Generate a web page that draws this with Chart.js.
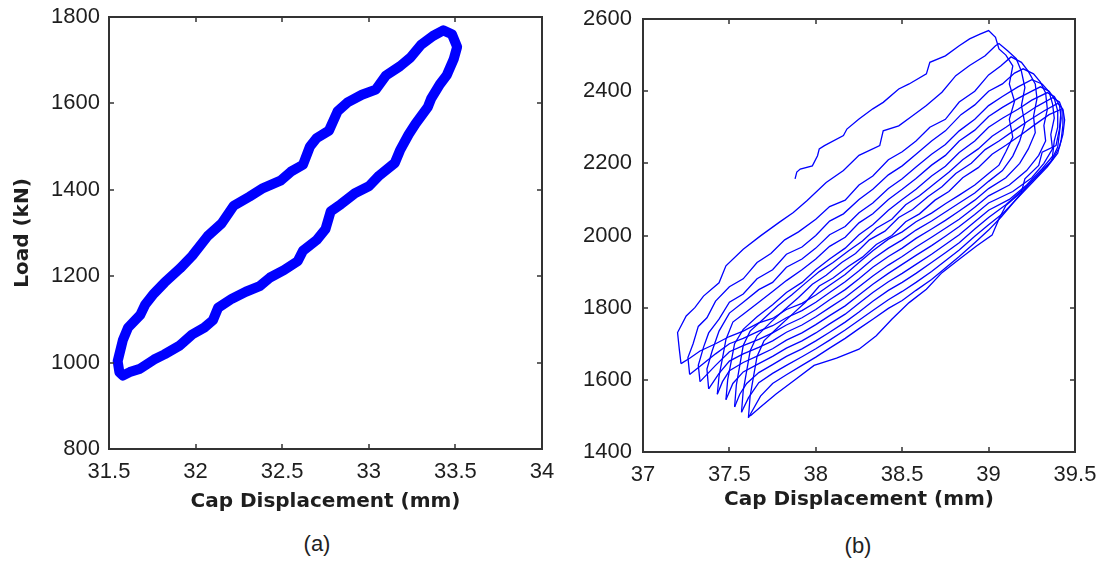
<!DOCTYPE html>
<html>
<head>
<meta charset="utf-8">
<script src="https://cdn.jsdelivr.net/npm/chart.js"></script>
<style>
  html, body { margin: 0; padding: 0; background: #fff; }
  #wrap { position: relative; width: 1103px; height: 562px; overflow: hidden; }
  canvas { position: absolute; top: 0; }
  #chartA { left: 0; }
  #chartB { left: 560px; }
  .tag { position: absolute; font: 22px "Liberation Sans", Arial, sans-serif; color: #222; transform: translateX(-50%); }
</style>
</head>
<body>
<div id="wrap">
  <canvas id="chartA" width="560" height="520"></canvas>
  <canvas id="chartB" width="543" height="520"></canvas>
  <div class="tag" style="left:317px; top:531px">(a)</div>
  <div class="tag" style="left:858px; top:533px">(b)</div>
</div>
<script>
// axis ticks
const dispTicksA = [31.5, 32, 32.5, 33, 33.5, 34];
const loadTicksA = [800, 1000, 1200, 1400, 1600, 1800];
const dispTicksB = [37, 37.5, 38, 38.5, 39, 39.5];
const loadTicksB = [1400, 1600, 1800, 2000, 2200, 2400, 2600];

// (a) stable loop, [displacement mm, load kN]
const loopA = [
  [31.55,1003],[31.58,1052],[31.61,1081],[31.68,1110],[31.71,1135],[31.76,1160],[31.82,1185],
  [31.91,1218],[31.98,1247],[32.07,1293],[32.15,1322],[32.22,1363],[32.31,1384],[32.39,1404],
  [32.49,1421],[32.55,1442],[32.62,1458],[32.66,1500],[32.70,1520],[32.77,1537],[32.82,1582],
  [32.88,1603],[32.96,1620],[33.04,1632],[33.10,1665],[33.18,1686],[33.24,1706],[33.30,1735],
  [33.37,1756],[33.43,1769],[33.48,1760],[33.51,1731],[33.49,1702],[33.45,1665],[33.41,1644],
  [33.36,1611],[33.34,1591],[33.27,1553],[33.23,1528],[33.18,1491],[33.15,1462],[33.06,1433],
  [33.00,1408],[32.92,1392],[32.84,1367],[32.78,1350],[32.75,1309],[32.70,1284],[32.62,1259],
  [32.59,1235],[32.51,1214],[32.43,1197],[32.37,1177],[32.29,1164],[32.21,1148],[32.13,1127],
  [32.10,1098],[32.05,1081],[31.98,1065],[31.91,1040],[31.82,1019],[31.76,1007],[31.68,986],
  [31.62,978],[31.58,970],[31.56,978],[31.55,1003]
];

// (b) ratcheting cycles: loading branch then unloading branch
const cycle1 = [
  [37.88,2157],[37.89,2176],[37.91,2184],[37.98,2193],[38.01,2221],[38.02,2240],[38.05,2249],
  [38.16,2277],[38.18,2295],[38.25,2323],[38.33,2351],[38.39,2369],[38.48,2406],[38.54,2420],
  [38.64,2448],[38.66,2480],[38.75,2498],[38.83,2526],[38.89,2545],[38.95,2558],[39.00,2568],
  [39.04,2549],[39.06,2517],[39.10,2500],[39.14,2470],[39.12,2420],[39.15,2372],[39.12,2322],
  [39.14,2272],[39.10,2232],[39.06,2195],[39.00,2172],[38.92,2140],[38.83,2112],[38.75,2088],
  [38.67,2062],[38.58,2038],[38.50,2010],[38.42,1990],[38.33,1958],[38.25,1925],[38.17,1892],
  [38.08,1862],[38.00,1835],[37.92,1812],[37.83,1795],[37.75,1770],[37.67,1758],[37.58,1735],
  [37.50,1720],[37.42,1700],[37.33,1680],[37.27,1660],[37.22,1645]
];
const cycle2 = [
  [37.22,1645],[37.21,1685],[37.20,1731],[37.25,1777],[37.30,1800],[37.35,1832],[37.44,1869],
  [37.48,1916],[37.58,1962],[37.68,1999],[37.79,2037],[37.87,2064],[37.95,2097],[38.06,2147],
  [38.16,2180],[38.25,2222],[38.37,2249],[38.39,2290],[38.48,2304],[38.56,2332],[38.64,2360],
  [38.73,2397],[38.81,2443],[38.89,2471],[38.98,2498],[39.04,2526],[39.06,2532],
  [39.11,2512],[39.16,2490],[39.19,2455],[39.21,2410],[39.19,2360],[39.21,2310],[39.18,2262],
  [39.14,2220],[39.08,2180],[39.00,2150],[38.92,2118],[38.83,2090],[38.75,2065],[38.67,2040],
  [38.58,2015],[38.50,1988],[38.42,1965],[38.33,1935],[38.25,1902],[38.17,1872],[38.08,1842],
  [38.00,1815],[37.92,1792],[37.83,1772],[37.75,1750],[37.67,1735],[37.58,1715],[37.50,1700],
  [37.42,1672],[37.35,1645],[37.27,1615]
];
const cycle3 = [
  [37.27,1615],[37.26,1662],[37.29,1700],[37.32,1748],[37.37,1772],[37.42,1818],[37.50,1858],
  [37.58,1880],[37.66,1925],[37.74,1950],[37.82,1988],[37.90,2010],[38.00,2045],[38.08,2080],
  [38.17,2098],[38.25,2140],[38.33,2165],[38.42,2210],[38.50,2232],[38.58,2262],[38.66,2300],
  [38.75,2322],[38.83,2370],[38.92,2400],[39.00,2445],[39.07,2470],[39.13,2495],
  [39.19,2480],[39.23,2455],[39.27,2420],[39.28,2380],[39.26,2330],[39.27,2285],[39.23,2240],
  [39.18,2200],[39.10,2160],[39.00,2130],[38.92,2098],[38.83,2068],[38.75,2042],[38.67,2018],
  [38.58,1992],[38.50,1965],[38.42,1942],[38.33,1912],[38.25,1880],[38.17,1850],[38.08,1822],
  [38.00,1795],[37.92,1772],[37.83,1752],[37.75,1730],[37.67,1712],[37.58,1695],[37.50,1678],
  [37.42,1640],[37.33,1595]
];
const cycle4 = [
  [37.33,1595],[37.32,1640],[37.35,1690],[37.38,1730],[37.44,1768],[37.50,1815],[37.58,1838],
  [37.66,1880],[37.75,1905],[37.83,1948],[37.92,1968],[38.00,2000],[38.08,2040],[38.16,2060],
  [38.25,2100],[38.33,2128],[38.42,2168],[38.50,2193],[38.58,2225],[38.67,2262],[38.75,2290],
  [38.84,2335],[38.92,2362],[39.00,2400],[39.08,2420],[39.15,2450],[39.20,2462],
  [39.26,2448],[39.30,2425],[39.33,2395],[39.34,2350],[39.32,2305],[39.33,2262],[39.29,2222],
  [39.22,2180],[39.12,2140],[39.00,2110],[38.92,2078],[38.83,2045],[38.75,2020],[38.67,1995],
  [38.58,1968],[38.50,1942],[38.42,1918],[38.33,1888],[38.25,1858],[38.17,1828],[38.08,1800],
  [38.00,1775],[37.92,1752],[37.83,1732],[37.75,1708],[37.67,1690],[37.58,1672],[37.50,1652],
  [37.44,1618],[37.38,1575]
];
const cycle5 = [
  [37.38,1575],[37.37,1630],[37.40,1680],[37.44,1735],[37.50,1785],[37.58,1815],[37.67,1850],
  [37.75,1870],[37.83,1912],[37.92,1935],[38.00,1965],[38.08,2002],[38.17,2025],[38.25,2063],
  [38.33,2090],[38.42,2130],[38.50,2157],[38.58,2190],[38.67,2225],[38.75,2252],[38.83,2290],
  [38.92,2322],[39.00,2360],[39.08,2385],[39.17,2412],[39.25,2432],
  [39.31,2420],[39.35,2398],[39.37,2365],[39.38,2325],[39.36,2280],[39.37,2240],[39.32,2200],
  [39.25,2160],[39.14,2122],[39.00,2090],[38.92,2058],[38.83,2025],[38.75,1998],[38.67,1972],
  [38.58,1945],[38.50,1920],[38.42,1895],[38.33,1865],[38.25,1835],[38.17,1805],[38.08,1778],
  [38.00,1753],[37.92,1730],[37.83,1710],[37.75,1686],[37.67,1668],[37.58,1648],[37.50,1625],
  [37.46,1595],[37.43,1560]
];
const cycle6 = [
  [37.43,1560],[37.44,1610],[37.46,1660],[37.48,1712],[37.52,1760],[37.58,1782],[37.67,1815],
  [37.75,1845],[37.83,1875],[37.92,1905],[38.00,1935],[38.08,1970],[38.17,1995],[38.25,2035],
  [38.33,2060],[38.42,2100],[38.50,2128],[38.58,2158],[38.67,2195],[38.75,2222],[38.83,2262],
  [38.92,2292],[39.00,2330],[39.08,2355],[39.17,2380],[39.25,2400],[39.30,2412],
  [39.35,2400],[39.38,2380],[39.40,2345],[39.40,2300],[39.38,2262],[39.37,2220],[39.31,2185],
  [39.22,2140],[39.12,2100],[39.00,2070],[38.92,2038],[38.83,2002],[38.75,1975],[38.67,1948],
  [38.58,1920],[38.50,1895],[38.42,1872],[38.33,1842],[38.25,1812],[38.17,1782],[38.08,1755],
  [38.00,1730],[37.92,1708],[37.83,1688],[37.75,1665],[37.67,1645],[37.58,1622],[37.52,1590],
  [37.48,1545]
];
const cycle7 = [
  [37.48,1545],[37.49,1600],[37.51,1650],[37.53,1700],[37.58,1740],[37.66,1775],[37.75,1808],
  [37.83,1842],[37.92,1870],[38.00,1905],[38.08,1935],[38.17,1965],[38.25,2002],[38.33,2030],
  [38.42,2070],[38.50,2100],[38.58,2128],[38.67,2165],[38.75,2192],[38.83,2230],[38.92,2262],
  [39.00,2300],[39.08,2325],[39.17,2350],[39.25,2375],[39.34,2396],
  [39.38,2385],[39.41,2362],[39.42,2325],[39.41,2285],[39.40,2245],[39.36,2205],[39.29,2168],
  [39.20,2128],[39.10,2085],[39.00,2050],[38.92,2018],[38.83,1980],[38.75,1952],[38.67,1925],
  [38.58,1895],[38.50,1870],[38.42,1848],[38.33,1818],[38.25,1788],[38.17,1760],[38.08,1732],
  [38.00,1708],[37.92,1686],[37.83,1665],[37.75,1642],[37.67,1620],[37.60,1590],[37.56,1560],
  [37.53,1525]
];
const cycle8 = [
  [37.53,1525],[37.54,1585],[37.56,1640],[37.58,1695],[37.62,1735],[37.70,1770],[37.78,1805],
  [37.86,1835],[37.94,1868],[38.02,1900],[38.10,1925],[38.19,1958],[38.27,1985],[38.35,2020],
  [38.44,2045],[38.52,2085],[38.60,2110],[38.69,2145],[38.77,2175],[38.85,2210],[38.94,2240],
  [39.02,2275],[39.10,2300],[39.19,2330],[39.28,2358],[39.37,2382],
  [39.41,2370],[39.43,2345],[39.43,2305],[39.42,2265],[39.40,2228],[39.34,2190],[39.26,2150],
  [39.17,2105],[39.08,2060],[39.00,2030],[38.92,1998],[38.83,1960],[38.75,1930],[38.67,1900],
  [38.58,1870],[38.50,1845],[38.42,1822],[38.33,1792],[38.25,1765],[38.17,1738],[38.08,1710],
  [38.00,1686],[37.92,1664],[37.83,1640],[37.75,1618],[37.67,1592],[37.61,1550],[37.57,1510]
];
const cycle9 = [
  [37.57,1510],[37.58,1570],[37.60,1625],[37.62,1680],[37.66,1722],[37.74,1760],[37.82,1795],
  [37.90,1828],[37.98,1865],[38.06,1890],[38.15,1925],[38.23,1950],[38.31,1988],[38.40,2012],
  [38.48,2050],[38.56,2072],[38.65,2108],[38.73,2135],[38.81,2172],[38.90,2200],[38.98,2238],
  [39.06,2262],[39.15,2292],[39.23,2318],[39.32,2345],[39.40,2366],
  [39.43,2350],[39.44,2320],[39.43,2280],[39.41,2245],[39.37,2210],[39.31,2180],[39.23,2140],
  [39.15,2095],[39.07,2050],[39.00,2015],[38.92,1980],[38.83,1942],[38.75,1910],[38.67,1878],
  [38.58,1848],[38.50,1820],[38.42,1798],[38.33,1768],[38.25,1742],[38.17,1715],[38.08,1688],
  [38.00,1663],[37.92,1640],[37.83,1614],[37.75,1590],[37.68,1555],[37.61,1495]
];
const cycle10 = [
  [37.61,1495],[37.62,1555],[37.64,1610],[37.66,1665],[37.70,1708],[37.78,1745],[37.86,1780],
  [37.94,1815],[38.02,1860],[38.10,1882],[38.19,1915],[38.27,1940],[38.35,1975],[38.44,2000],
  [38.52,2038],[38.60,2060],[38.69,2098],[38.77,2122],[38.85,2160],[38.94,2188],[39.02,2225],
  [39.10,2250],[39.19,2280],[39.27,2308],[39.35,2335],[39.42,2350],
  [39.41,2295],[39.39,2249],[39.31,2231],[39.29,2194],[39.21,2157],[39.19,2120],[39.10,2083],
  [39.06,2046],[39.02,2001],[38.93,1971],[38.83,1934],[38.73,1897],[38.64,1851],[38.54,1814],
  [38.44,1768],[38.35,1722],[38.25,1685],[38.12,1660],[37.99,1640],[37.88,1600],[37.77,1561],
  [37.68,1525],[37.62,1500]
];

const BLUE = '#0000ff';
const INK = '#1e1e1e';
const tickFont = { family: '"Liberation Sans", Arial, sans-serif', size: 22 };
const titleFont = { family: '"DejaVu Sans", sans-serif', size: 20, weight: 'bold' };

// matlab-style box with inward tick marks on all four sides
const frameTicks = {
  id: 'frameTicks',
  afterDatasetsDraw(chart) {
    const { ctx, chartArea: a, scales: { x, y } } = chart;
    const len = 5;
    ctx.save();
    ctx.strokeStyle = '#333';
    ctx.lineWidth = 1.5;
    ctx.beginPath();
    x.ticks.forEach(t => {
      const px = Math.round(x.getPixelForValue(t.value));
      ctx.moveTo(px, a.bottom); ctx.lineTo(px, a.bottom - len);
      ctx.moveTo(px, a.top); ctx.lineTo(px, a.top + len);
    });
    y.ticks.forEach(t => {
      const py = Math.round(y.getPixelForValue(t.value));
      ctx.moveTo(a.left, py); ctx.lineTo(a.left + len, py);
      ctx.moveTo(a.right, py); ctx.lineTo(a.right - len, py);
    });
    ctx.stroke();
    ctx.lineWidth = 2;
    ctx.strokeRect(a.left, a.top, a.right - a.left, a.bottom - a.top);
    ctx.restore();
  }
};

function makeChart(id, datasets, xTicks, yTicks, box) {
  return new Chart(document.getElementById(id), {
    type: 'scatter',
    data: { datasets },
    plugins: [frameTicks],
    options: {
      responsive: false,
      animation: false,
      devicePixelRatio: 1,
      layout: { padding: { left: 0, top: box.top, right: box.right, bottom: 0 } },
      plugins: { legend: { display: false }, tooltip: { enabled: false } },
      scales: {
        x: {
          type: 'linear',
          min: xTicks[0],
          max: xTicks[xTicks.length - 1],
          afterBuildTicks: s => { s.ticks = xTicks.map(v => ({ value: v })); },
          // fixed axis box; label overhang is covered by the layout padding
          afterFit: s => { s.height = box.xHeight; s.paddingLeft = 0; s.paddingRight = 0; },
          grid: { display: false, drawTicks: false },
          border: { display: false },
          ticks: { color: INK, font: tickFont, padding: 10, maxRotation: 0, autoSkip: false, callback: v => String(v) },
          title: { display: true, text: 'Cap Displacement (mm)', color: INK, font: titleFont, padding: { top: 0, bottom: box.titleGap } }
        },
        y: {
          type: 'linear',
          min: yTicks[0],
          max: yTicks[yTicks.length - 1],
          afterBuildTicks: s => { s.ticks = yTicks.map(v => ({ value: v })); },
          afterFit: s => { s.width = box.yWidth; s.paddingTop = 0; s.paddingBottom = 0; },
          grid: { display: false, drawTicks: false },
          border: { display: false },
          ticks: { color: INK, font: tickFont, padding: box.yPad, autoSkip: false, callback: v => String(v) },
          title: { display: !!box.yTitle, text: box.yTitle || '', color: INK, font: titleFont, padding: { top: 11, bottom: 0 } }
        }
      }
    }
  });
}

makeChart('chartA', [
  { data: loopA, showLine: true, borderColor: BLUE, borderWidth: 10, borderJoinStyle: 'round', borderCapStyle: 'round', pointRadius: 0 },
  { data: loopA, showLine: false, pointRadius: 1.2, pointBackgroundColor: '#d8d8ff', pointBorderWidth: 0 }
], dispTicksA, loadTicksA, { top: 17, right: 18, xHeight: 71, yWidth: 109, yPad: 9, titleGap: 6, yTitle: 'Load (kN)' });

const cyclesB = [cycle1, cycle2, cycle3, cycle4, cycle5, cycle6, cycle7, cycle8, cycle9, cycle10];
makeChart('chartB', cyclesB.map(c => ({
  data: c, showLine: true, borderColor: BLUE, borderWidth: 1.3, pointRadius: 0
})), dispTicksB, loadTicksB, { top: 19, right: 28, xHeight: 68, yWidth: 83, yPad: 11, titleGap: 8 });
</script>
</body>
</html>
